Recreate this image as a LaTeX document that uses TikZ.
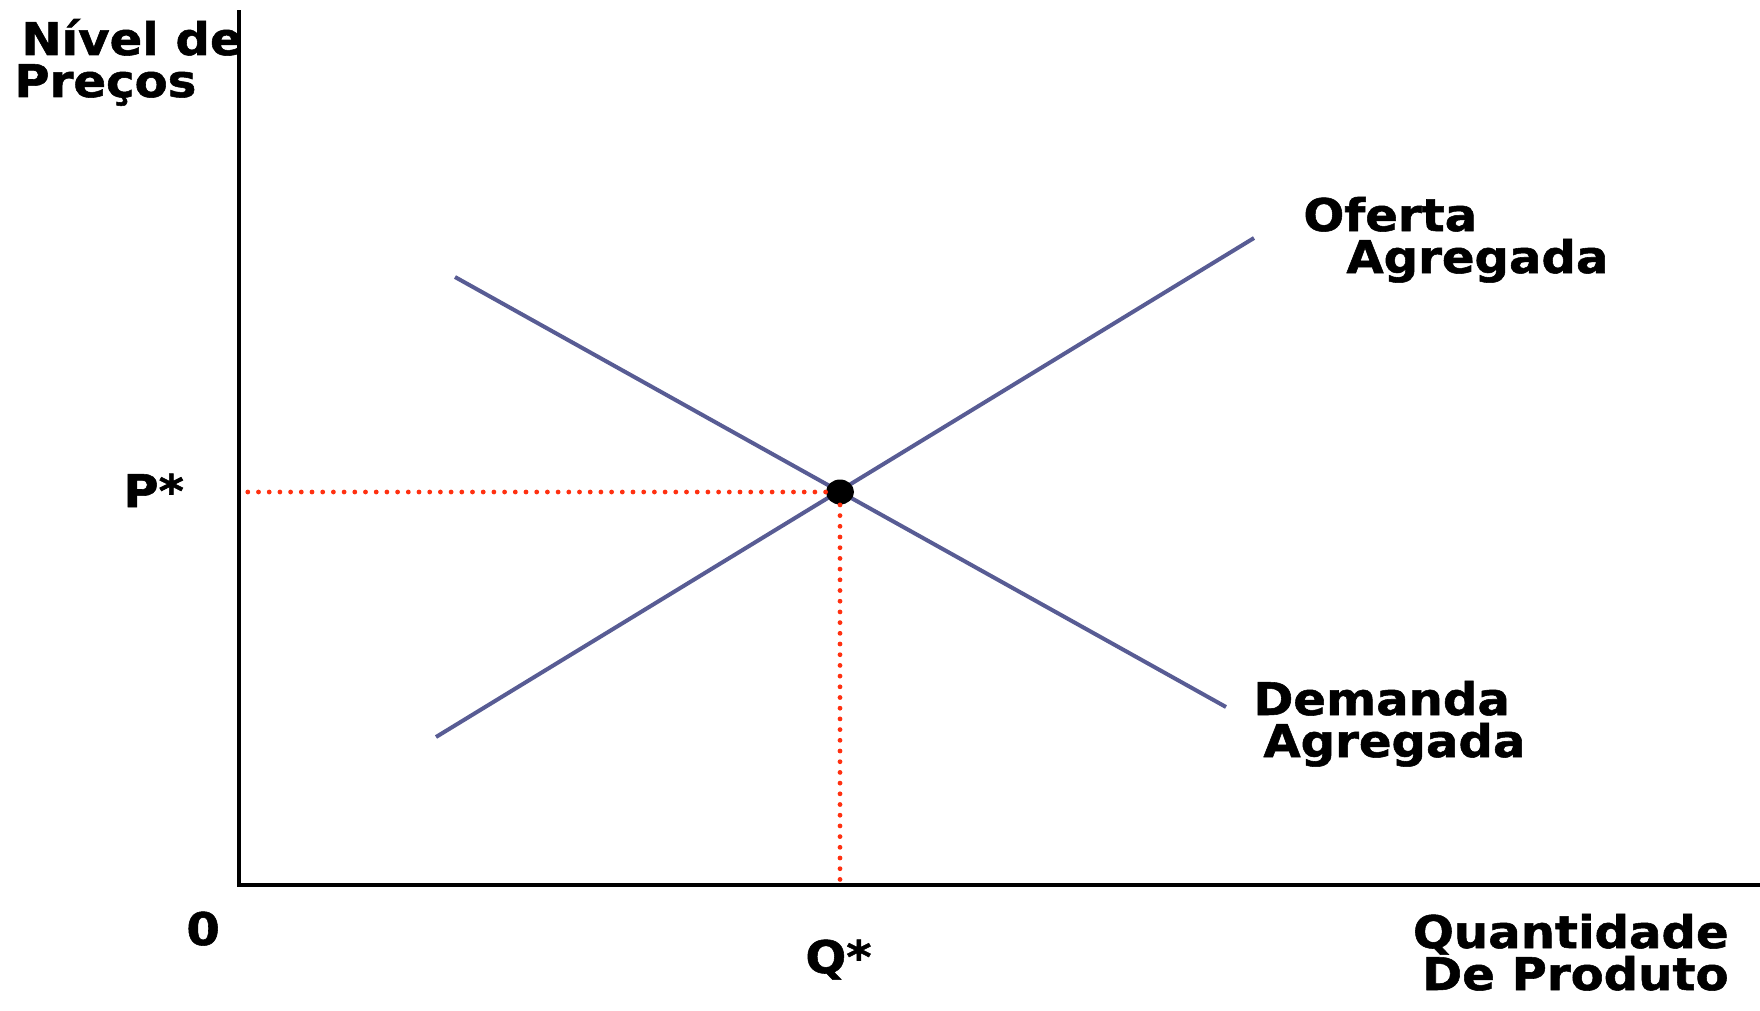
\documentclass[tikz,border=0pt]{standalone}
\usepackage{fontspec}
\newfontfamily\lblfont{DejaVu Sans Bold}[FakeStretch=1.07, FakeBold=1.2]
\usetikzlibrary{shapes.geometric}

\definecolor{curveblue}{RGB}{88,92,148}
\definecolor{dotred}{RGB}{255,48,16}

\tikzset{
  axisline/.style={line width=2.2pt, line cap=rect},
  curveline/.style={curveblue, line width=2pt},
  guideline/.style={dotred, line width=2.4pt, line cap=round, dash pattern=on 0pt off 5.35pt},
  lbl/.style={inner sep=0pt, font=\fontsize{22.5}{21}\lblfont}
}

\begin{document}
\begin{tikzpicture}[x=0.5pt, y=-0.5pt]
  \useasboundingbox (0,0) rectangle (1760,1011);

  % axes
  \coordinate (O) at (239,885);
  \coordinate (ytop) at (239,12);
  \coordinate (xend) at (1760,885);
  \draw[axisline] (ytop) -- (O) -- (xend);

  % aggregate demand and supply
  \coordinate (dA) at (455,277);
  \coordinate (dB) at (1226,707);
  \coordinate (sA) at (436,737);
  \coordinate (sB) at (1254,238);
  \draw[curveline] (dA) -- (dB);
  \draw[curveline] (sA) -- (sB);

  % equilibrium
  \node[ellipse, fill=black, inner sep=0pt, minimum width=14pt, minimum height=12.5pt] (eq) at (840,492) {};
  \draw[guideline] (eq.west) -- (O |- eq);
  \draw[guideline] (eq.south) -- (eq |- O);

  % labels (base = last line)
  \node[lbl, anchor=base west, align=left] (ylab) at (14,97) {\hspace*{3.5pt}Nível de\\Preços};
  \node[lbl, anchor=base west] (pstar) at (123,507) {P*};
  \node[lbl, anchor=base west] (zero) at (186,945) {0};
  \node[lbl, anchor=base west] (qstar) at (805,973) {Q*};
  \node[lbl, anchor=base west, align=left] (oa) at (1303,273) {Oferta\\\hspace*{21.5pt}Agregada};
  \node[lbl, anchor=base west, align=left] (da) at (1253,757) {Demanda\\\hspace*{5pt}Agregada};
  \node[lbl, anchor=base east, align=right] (xlab) at (1729,990) {Quantidade\\De Produto};
\end{tikzpicture}
\end{document}
